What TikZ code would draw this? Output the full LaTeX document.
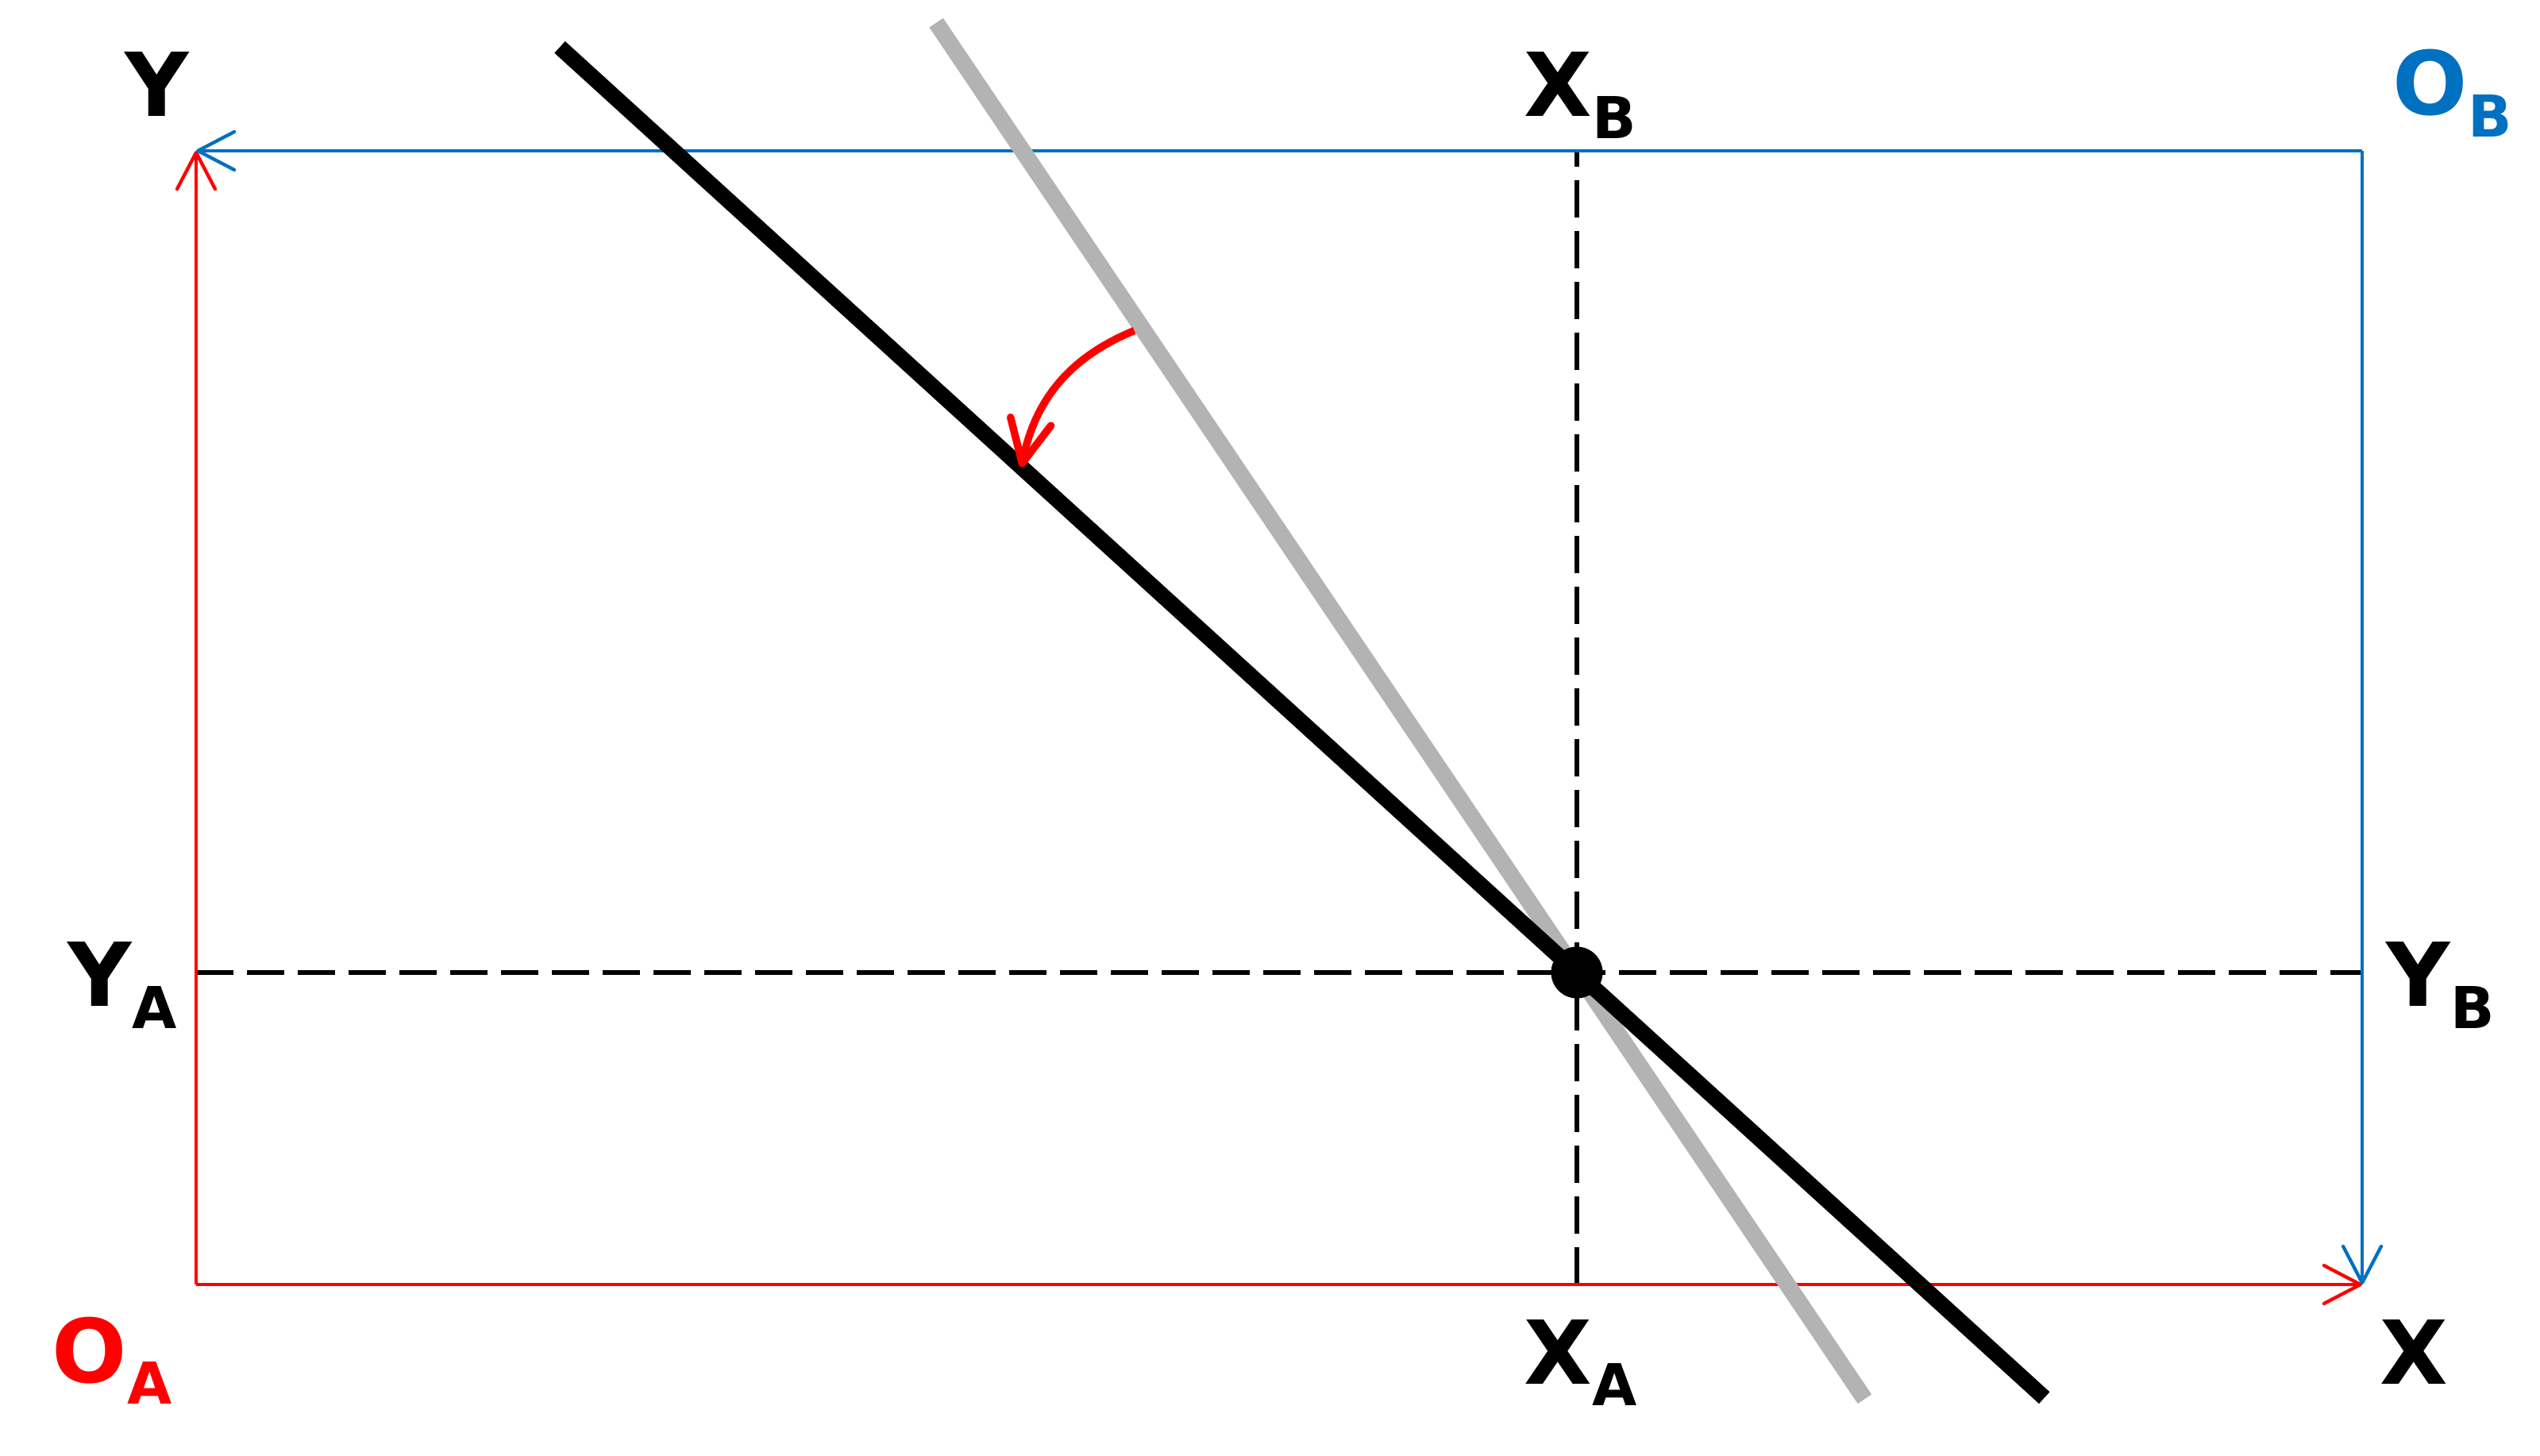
\documentclass[tikz,border=0pt]{standalone}
\usepackage{fontspec}
\setmainfont{DejaVu Sans}
\usetikzlibrary{arrows.meta,calc}

\definecolor{frameA}{RGB}{255,0,0}
\definecolor{frameB}{RGB}{0,112,192}
\definecolor{oldline}{RGB}{179,179,179}

% letter with a lowered index
\newcommand{\sublabel}[2]{#1\raisebox{-0.25em}{\fontsize{20.7}{24}\selectfont #2}}

\begin{document}
\begin{tikzpicture}[
    axis/.style={line width=0.043cm, -{Straight Barb[length=0.46cm,width=0.48cm,round]}},
    guide/.style={line width=0.06cm, dash pattern=on 0.47cm off 0.17cm},
    lbl/.style={anchor=base west, inner sep=0pt, font=\fontsize{31.6}{36}\selectfont\bfseries},
]
\useasboundingbox (-2.47,-2.15) rectangle (29.52,16.18);

% Corners and pivot
\coordinate (OA) at (0,0);
\coordinate (OB) at (27.28,14.28);
\coordinate (Ytip) at (0,14.28);
\coordinate (Xtip) at (27.28,0);
\coordinate (P) at (17.39,3.93);

% Dashed guides through the pivot
\draw[guide] (P |- OA) -- (P |- OB);
\draw[guide] (OA |- P) -- (OB |- P);

% Frame A
\draw[axis, frameA] (OA) -- (Ytip);
\draw[axis, frameA] (OA) -- (Xtip);

% Frame B
\draw[axis, frameB] (OB) -- (Ytip);
\draw[axis, frameB] (OB) -- (Xtip);

% Old and new line
\draw[oldline, line width=0.21cm] ($(P)+(124:14.43)$) -- ($(P)+(-56:6.48)$);
\draw[black, line width=0.2cm] ($(P)+(137.7:17.32)$) -- ($(P)+(-42.3:7.96)$);
\fill (P) circle (0.325);

% Rotation
\draw[frameA, line width=0.095cm, -{Straight Barb[length=0.54cm,width=0.52cm,round]}]
    ($(P)+(124:9.82)+(214:0.1)$) to[bend right=28] ($(P)+(137.7:9.46)$);

% Labels
\node[lbl] (lY) at (-0.90,14.71) {Y};
\node[lbl] (lXB) at (16.72,14.71) {\sublabel{X}{B}};
\node[lbl, text=frameB] (lOB) at (27.66,14.73) {\sublabel{O}{B}};
\node[lbl] (lYA) at (-1.62,3.50) {\sublabel{Y}{A}};
\node[lbl] (lYB) at (27.58,3.50) {\sublabel{Y}{B}};
\node[lbl, text=frameA] (lOA) at (-1.82,-1.23) {\sublabel{O}{A}};
\node[lbl] (lXA) at (16.72,-1.25) {\sublabel{X}{A}};
\node[lbl] (lX) at (27.50,-1.25) {X};

\end{tikzpicture}
\end{document}
